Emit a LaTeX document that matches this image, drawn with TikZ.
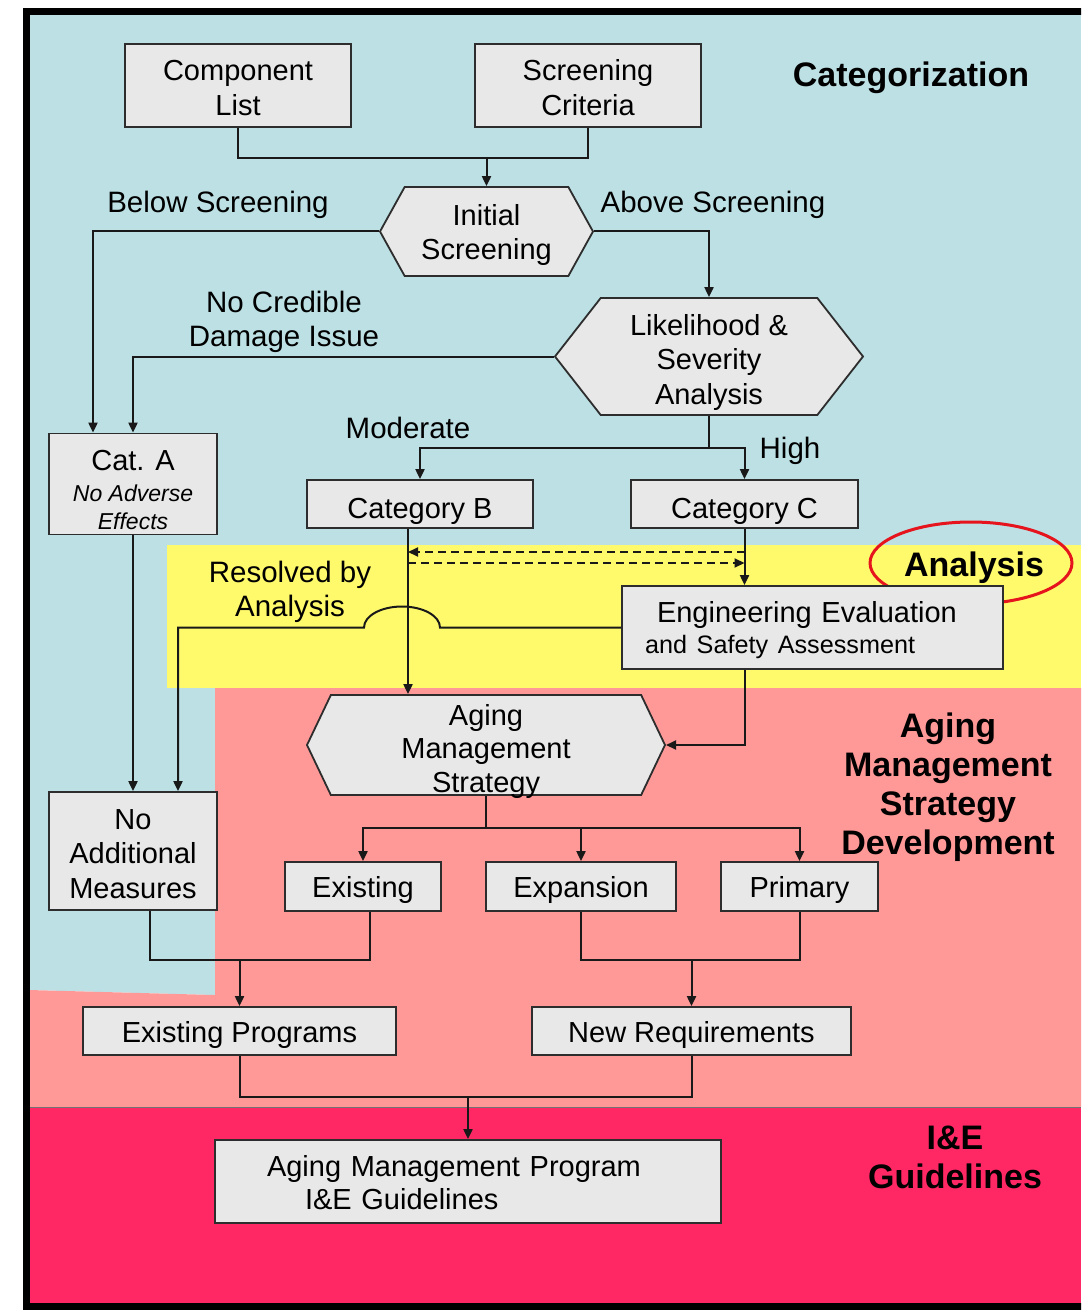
\documentclass[tikz,border=0pt]{standalone}
\usepackage{fontspec}
\setmainfont{Liberation Sans}
\usetikzlibrary{arrows.meta,shapes.symbols}
\definecolor{catblue}{RGB}{188,224,228}
\definecolor{anayellow}{RGB}{255,250,108}
\definecolor{agepink}{RGB}{255,153,152}
\definecolor{iecrim}{RGB}{255,40,100}
\definecolor{boxfill}{RGB}{232,232,232}
\definecolor{boxline}{RGB}{45,45,45}
\definecolor{ellred}{RGB}{230,20,28}
\newcommand{\smitfont}{\fontsize{23}{26}\selectfont\itshape}
\newcommand{\dn}[1]{\rule{0pt}{#1pt}}
\begin{document}
\begin{tikzpicture}[x=1pt,y=-1pt,
  box/.style={draw=boxline,fill=boxfill,line width=1.8pt,inner sep=0pt,align=center,font=\fontsize{29}{34.5}\selectfont},
  hexa/.style={box,shape=signal,signal to=east and west},
  lbl/.style={align=center,font=\fontsize{29.5}{34.5}\selectfont},
  sec/.style={align=center,font=\fontsize{34}{39}\selectfont\bfseries},
  conn/.style={line width=2pt,black!90},
  arr/.style={conn,-{Triangle[length=10pt,width=9pt]}},
]
\useasboundingbox (0,0) rectangle (1081,1313);
\clip (0,0) rectangle (1081,1313);
% background regions
\fill[catblue] (29,14) rectangle (1081,545);
\fill[catblue] (29,545) rectangle (167,688);
\fill[catblue] (29,688) -- (215,688) -- (215,995) -- (29,990) -- cycle;
\fill[anayellow] (167,545) rectangle (1081,688);
\fill[agepink] (215,688) -- (1081,688) -- (1081,1107) -- (29,1107) -- (29,990) -- (215,995) -- cycle;
\fill[iecrim] (29,1107) rectangle (1081,1304);
\draw[line width=1pt,black!55] (29,1107) -- (1081,1107);
\draw[line width=7pt] (26,11.5) rectangle (1110,1306.5);

% section labels
\node[sec] (secCat) at (911,78) {Categorization};
\node[sec] (secAna) at (974,568) {Analysis};
\draw[ellred,line width=3pt] (971,563) ellipse [x radius=101pt,y radius=41pt];
\node[sec] (secAge) at (948,787) {Aging\\Management\\Strategy\\Development};
\node[sec] (secIE) at (955,1157) {I\&E\\Guidelines};

% nodes
\node[box,minimum width=226pt,minimum height=83pt] (comp) at (238,85.5) {\dn{25.5}Component\\List};
\node[box,minimum width=226pt,minimum height=83pt] (crit) at (588,85.5) {\dn{25.5}Screening\\Criteria};
\node[hexa,signal pointer angle=122,minimum width=213pt,minimum height=89pt] (init) at (486.5,231.5) {\dn{28.5}Initial\\Screening};
\node[hexa,signal pointer angle=104,minimum width=308pt,minimum height=117pt] (lik) at (709,356.5) {\dn{32.5}Likelihood \&\\Severity\\Analysis};
\node[box,minimum width=168pt,minimum height=101pt] (catA) at (133,484) {\dn{32.5}Cat. A\\[-4pt]\smitfont No Adverse\\[-6pt]\smitfont Effects};
\node[box,minimum width=226pt,minimum height=48pt] (catB) at (420,504) {\dn{34.5}Category B};
\node[box,minimum width=227pt,minimum height=48pt] (catC) at (744.5,504) {\dn{34.5}Category C};
\node[box,minimum width=381pt,minimum height=83pt,align=left,text width=335pt] (eng) at (812.5,627.5)
  {\hspace*{12pt}\dn{26.5}Engineering Evaluation\\[-3pt]{\fontsize{25.2}{30}\selectfont and Safety Assessment}};
\node[hexa,inner ysep=-5pt,signal pointer angle=129,minimum width=358pt,minimum height=100pt] (ams) at (486,745) {\dn{33.5}Aging\\[-1pt]Management\\[-1pt]Strategy};
\node[box,minimum width=168pt,minimum height=118pt] (nam) at (133,851) {\dn{25.5}No\\Additional\\Measures};
\node[box,minimum width=156pt,minimum height=49pt] (exist) at (363,886.5) {\dn{28.5}Existing};
\node[box,minimum width=190pt,minimum height=49pt] (expa) at (581,886.5) {\dn{28.5}Expansion};
\node[box,minimum width=157pt,minimum height=49pt] (prim) at (799.5,886.5) {\dn{28.5}Primary};
\node[box,minimum width=313pt,minimum height=48pt] (ep) at (239.5,1031) {\dn{28.5}Existing Programs};
\node[box,minimum width=319pt,minimum height=48pt] (nr) at (691.5,1031) {\dn{28.5}New Requirements};
\node[box,minimum width=506pt,minimum height=83pt,align=left,text width=402pt] (amp) at (468,1181.5)
  {\dn{23.5}Aging Management Program\\[-1.5pt]\hspace*{38pt}I\&E Guidelines};

% labels
\node[lbl] (lBelow) at (218,205) {Below Screening};
\node[lbl] (lAbove) at (713,205) {Above Screening};
\node[lbl] (lNoCred) at (284,322) {No Credible\\Damage Issue};
\node[lbl] (lMod) at (408,428) {Moderate};
\node[lbl] (lHigh) at (790,451) {High};
\node[lbl] (lRes) at (290,592) {Resolved by\\Analysis};

% junction coordinates
\coordinate (j1) at (486.5,158);
\coordinate (j2) at (709,448);
\coordinate (j3) at (486,828);
\coordinate (j4) at (239.5,960);
\coordinate (j5) at (691.5,960);
\coordinate (j6) at (468,1097);
\coordinate (dR1) at (744.5,552);
\coordinate (dL1) at (408,552);
\coordinate (dL2) at (408,563);
\coordinate (dR2) at (744.5,563);
\coordinate (rL) at (178,627.5);

% connectors
\draw[conn] (comp.south) |- (j1) -| (crit.south);
\draw[arr] (j1) -- (init.north);
\draw[arr] (init.west) -| ([xshift=-40pt]catA.north);
\draw[arr] (init.east) -| (lik.north);
\draw[arr] (lik.west) -| (catA.north);
\draw[conn] (lik.south) -- (j2);
\draw[arr] (j2) -| (catB.north);
\draw[arr] (j2) -| (catC.north);
\draw[arr] (catA.south) -- (nam.north);
\draw[arr] ([xshift=-12pt]catB.south) -- ([xshift=-12pt]catB.south |- ams.north);
\draw[arr] (catC.south) -- (catC.south |- eng.north);
\draw[arr,dashed,dash pattern=on 8pt off 5pt] (dR1) -- (dL1);
\draw[arr,dashed,dash pattern=on 8pt off 5pt] (dL2) -- (dR2);
\draw[arr] (eng.west) -- (440,627.5) arc[start angle=0,end angle=180,x radius=38pt,y radius=21pt] -- (rL) -- (rL |- nam.north);
\draw[arr] ([xshift=-68pt]eng.south) |- (ams.east);
\draw[conn] (ams.south) -- (j3);
\draw[arr] (j3) -| (exist.north);
\draw[arr] (j3) -| (expa.north);
\draw[arr] (j3) -| (prim.north);
\draw[conn] ([xshift=17pt]nam.south) |- (j4) -| ([xshift=7pt]exist.south);
\draw[arr] (j4) -- (ep.north);
\draw[conn] (expa.south) |- (j5) -| (prim.south);
\draw[arr] (j5) -- (nr.north);
\draw[conn] (ep.south) |- (j6) -| (nr.south);
\draw[arr] (j6) -- (amp.north);
\end{tikzpicture}
\end{document}
